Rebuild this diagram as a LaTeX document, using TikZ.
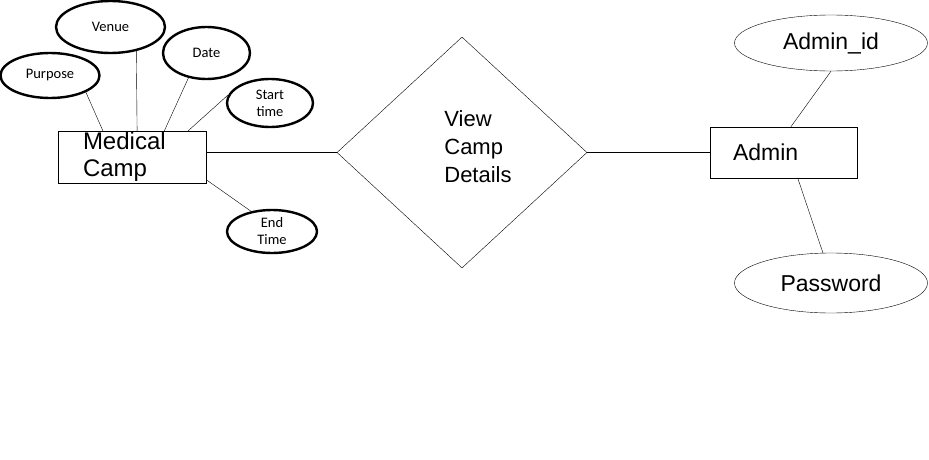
\documentclass[tikz,border=0pt]{standalone}
\usepackage{fontspec}
\setmainfont{Liberation Sans}
\newfontfamily\calibri{Carlito}
\usetikzlibrary{shapes.geometric}

\begin{document}
\begin{tikzpicture}[x=1pt,y=-1pt]
	\tikzset{entity/.style={draw,rectangle,inner sep=0pt,minimum width=148pt,minimum height=52pt}}
	\tikzset{attrib/.style={draw,ellipse,line width=2.4pt,inner sep=0pt,align=center,font=\calibri\fontsize{14.5}{17}\selectfont}}
	\tikzset{keyattrib/.style={draw,ellipse,inner sep=0pt,font=\fontsize{23}{23}\selectfont}}
	\tikzset{relation/.style={draw,diamond,inner sep=0pt,minimum width=250pt,minimum height=231pt}}
	\useasboundingbox (0,0) rectangle (929,460);
	% entities and relation
	\node[entity,text width=98pt,inner xsep=25pt,align=left,font=\fontsize{24}{27}\selectfont] (camp) at (132,157) {Medical\\Camp};
	\node[relation,label={[xshift=16pt,yshift=6pt,align=left,font=\fontsize{22}{28}\selectfont]center:View\\Camp\\Details}] (view) at (462,152.5) {};
	\node[entity,minimum width=147pt,minimum height=51pt,text width=101pt,inner xsep=23pt,align=left,font=\fontsize{23}{23}\selectfont] (admin) at (783.5,152.5) {Admin};
	% attributes
	\node[attrib,minimum width=99pt,minimum height=45pt] (purpose) at (50,75.5) {Purpose};
	\node[attrib,minimum width=109pt,minimum height=52pt] (venue) at (110.5,27) {Venue};
	\node[attrib,minimum width=87pt,minimum height=52pt] (date) at (206.5,53) {Date};
	\node[attrib,minimum width=86pt,minimum height=48pt] (start) at (270,103) {Start\\time};
	\node[attrib,minimum width=90pt,minimum height=43pt] (end) at (272,231.5) {End\\Time};
	\node[keyattrib,minimum width=193pt,minimum height=56pt] (adminid) at (831,43) {Admin\_id};
	\node[keyattrib,minimum width=193pt,minimum height=60pt] (password) at (831,283) {Password};
	% links
	\draw (purpose.-25) -- (camp.138);
	\draw (venue.-43) -- (camp.79);
	\draw (date.-126) -- (camp.39);
	\draw (start.169) -- (camp.25);
	\draw (end.136) -- (camp.-17);
	\draw (camp.east |- view.west) -- (view.west);
	\draw (view.east) -- (admin.west);
	\draw (adminid.south) -- (admin.74);
	\draw (password.105) -- (admin.-61);
\end{tikzpicture}
\end{document}
